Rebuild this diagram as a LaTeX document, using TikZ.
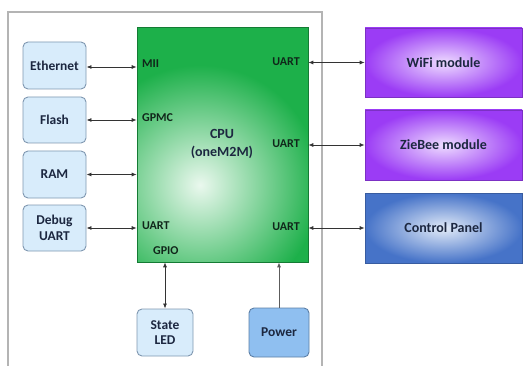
\documentclass[tikz,border=0pt]{standalone}
\usepackage{fontspec}
\setmainfont{Carlito}
\usetikzlibrary{arrows.meta}
\definecolor{txt}{HTML}{1C2740}
\definecolor{lbfill}{HTML}{D8ECFB}
\definecolor{lbdraw}{HTML}{7F97B0}
\definecolor{pwfill}{HTML}{8FBFF0}
\definecolor{pwdraw}{HTML}{5C7FA6}
\definecolor{cpugreen}{HTML}{1DB04A}
\definecolor{cpulight}{HTML}{EAF8EE}
\definecolor{purp}{HTML}{9B3CF5}
\definecolor{purplight}{HTML}{EEDCFF}
\definecolor{cpblue}{HTML}{4673C8}
\definecolor{cplight}{HTML}{E2EBF8}
\definecolor{framegray}{HTML}{B4B4B4}
\definecolor{arr}{HTML}{333333}
\definecolor{pintxt}{HTML}{10261A}
\tikzset{
  lbox/.style={draw=lbdraw, fill=lbfill, rounded corners=5pt, line width=0.9pt,
    align=center, font=\fontsize{13.5}{15.5}\selectfont\bfseries, text=txt, inner sep=0pt},
  pbox/.style={draw=purp!80!black, line width=0.6pt, inner color=purplight, outer color=purp,
    font=\fontsize{14}{16}\selectfont\bfseries, text=txt, inner sep=0pt},
  cbox/.style={draw=cpblue!80!black, line width=0.6pt, inner color=cplight, outer color=cpblue,
    font=\fontsize{14}{16}\selectfont\bfseries, text=txt, inner sep=0pt},
  pin/.style={font=\fontsize{12}{13}\selectfont\bfseries, text=pintxt, inner sep=0pt},
  link/.style={arr, line width=0.8pt, {Latex[length=5pt,width=4pt]}-{Latex[length=5pt,width=4pt]}},
  uplink/.style={arr!80, line width=1pt, -{Latex[length=5pt,width=4pt]}}
}
\begin{document}
\begin{tikzpicture}[x=1pt,y=-1pt]
\useasboundingbox (0,0) rectangle (524,366);
% frame
\draw[framegray, line width=1.2pt] (8,366) -- (8,12) -- (322,12) -- (322,366);
% CPU
\fill[cpugreen] (137,27) rectangle (308,262);
\begin{scope}
\clip (137,27) rectangle (308,262);
\shade[inner color=cpulight, outer color=cpugreen] (200,185) circle (120);
\end{scope}
\node[draw=cpugreen!70!black, line width=0.6pt, minimum width=171pt, minimum height=235pt, inner sep=0pt] (cpu) at (222.5,144.5) {};
\node[align=center, font=\fontsize{14}{18}\selectfont\bfseries, text=txt] (cputxt) at (222,144) {CPU\\(oneM2M)};
% left boxes
\node[lbox, minimum width=63pt, minimum height=47pt] (eth) at (54.5,65.5) {Ethernet};
\node[lbox, minimum width=63pt, minimum height=46pt] (flash) at (54.5,120) {Flash};
\node[lbox, minimum width=63pt, minimum height=47pt] (ram) at (54.5,174.5) {RAM};
\node[lbox, minimum width=63pt, minimum height=46pt] (dbg) at (54.5,228) {Debug\\UART};
% right boxes
\node[pbox, minimum width=157pt, minimum height=69pt] (wifi) at (443.5,62.5) {WiFi module};
\node[pbox, minimum width=157pt, minimum height=70pt] (zig) at (443.5,145) {ZieBee module};
\node[cbox, minimum width=157pt, minimum height=70pt] (ctrl) at (443.5,228) {Control Panel};
% bottom boxes
\node[lbox, minimum width=56pt, minimum height=47pt] (led) at (165,332.5) {State\\LED};
\node[lbox, draw=pwdraw, fill=pwfill, minimum width=60pt, minimum height=49pt] (power) at (279,332.5) {Power};
% pin labels
\node[pin, anchor=west] (mii) at (142,64) {MII};
\node[pin, anchor=west] (gpmc) at (142,118) {GPMC};
\node[pin, anchor=west] (uartl) at (142,226) {UART};
\node[pin, anchor=west] (gpio) at (153,251) {GPIO};
\node[pin, anchor=east] (uart1) at (300,62) {UART};
\node[pin, anchor=east] (uart2) at (300,144) {UART};
\node[pin, anchor=east] (uart3) at (300,227) {UART};
% connectors
\coordinate (e1) at ([yshift=-1.5pt]eth.east);
\draw[link] (e1) -- (e1 -| cpu.west);
\draw[link] (flash.east) -- (flash.east -| cpu.west);
\draw[link] (ram.east) -- (ram.east -| cpu.west);
\draw[link] (dbg.east) -- (dbg.east -| cpu.west);
\draw[link] (wifi.west -| cpu.east) -- (wifi.west);
\draw[link] (zig.west -| cpu.east) -- (zig.west);
\draw[link] (ctrl.west -| cpu.east) -- (ctrl.west);
\draw[link] (led.north) -- (led.north |- cpu.south);
\draw[uplink] (power.north) -- (power.north |- cpu.south);
\end{tikzpicture}
\end{document}
